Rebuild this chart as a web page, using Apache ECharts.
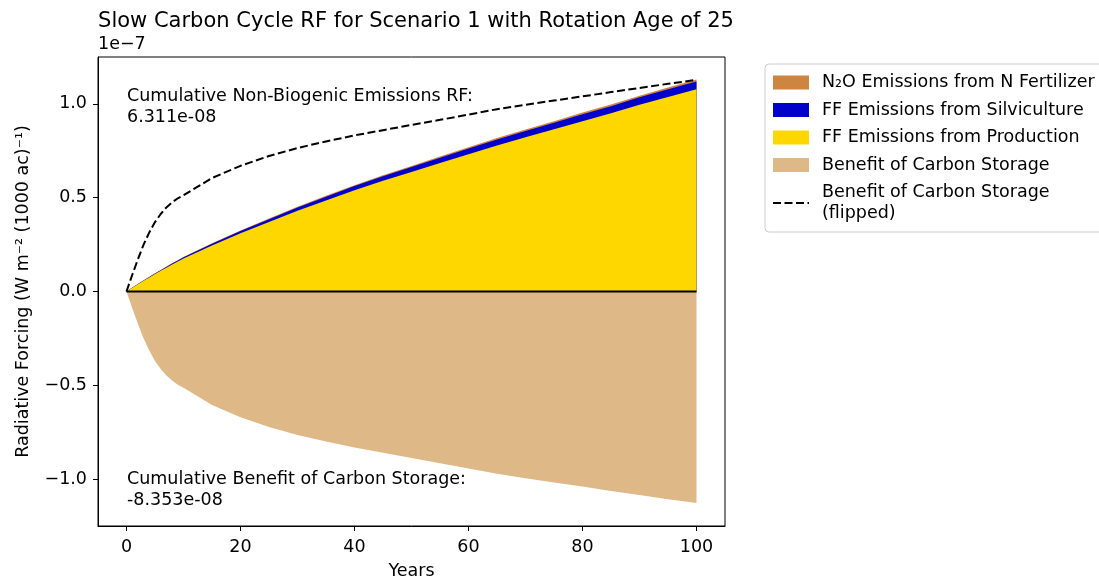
<!DOCTYPE html>
<html>
<head>
<meta charset="utf-8">
<script src="https://cdn.jsdelivr.net/npm/echarts@6/dist/echarts.min.js"></script>
<style>
html,body{margin:0;padding:0;background:#fff;}
#chart{width:1099px;height:580px;}
</style>
</head>
<body>
<div id="chart"></div>
<script>
// Data (values in units of 1e-7 W m^-2 (1000 ac)^-1)
const years = [0,1,2,3,4,5,6,7,8,9,10,15,20,25,30,35,40,45,50,55,60,65,70,75,80,85,90,95,100];
const production = [0,0.020,0.039,0.057,0.075,0.093,0.110,0.127,0.144,0.160,0.176,0.245,0.310,0.370,0.430,0.485,0.540,0.590,0.637,0.685,0.732,0.778,0.822,0.865,0.908,0.950,0.995,1.037,1.078];
const silviculture = [0,0.0006,0.0012,0.0018,0.0024,0.003,0.0036,0.0042,0.0048,0.0054,0.006,0.009,0.012,0.015,0.018,0.020,0.022,0.024,0.026,0.028,0.030,0.032,0.034,0.035,0.037,0.038,0.040,0.041,0.042];
const n2oFertilizer = [0,0.0002,0.0004,0.0006,0.0008,0.001,0.0012,0.0014,0.0016,0.0018,0.002,0.003,0.003,0.004,0.004,0.005,0.005,0.006,0.006,0.007,0.007,0.008,0.008,0.008,0.009,0.009,0.009,0.010,0.010];
const carbonStorageBenefit = [0,-0.088,-0.172,-0.250,-0.315,-0.370,-0.413,-0.448,-0.475,-0.497,-0.513,-0.605,-0.670,-0.722,-0.765,-0.800,-0.832,-0.860,-0.888,-0.915,-0.943,-0.972,-0.995,-1.018,-1.040,-1.063,-1.085,-1.107,-1.128];
const xTicks = [0,20,40,60,80,100];
const yTicks = [-1.0,-0.5,0.0,0.5,1.0];
const seriesNames = ['N\u2082O Emissions from N Fertilizer','FF Emissions from Silviculture','FF Emissions from Production','Benefit of Carbon Storage','Benefit of Carbon Storage\n(flipped)'];
const titleText = 'Slow Carbon Cycle RF for Scenario 1 with Rotation Age of 25';
const nonBioText = 'Cumulative Non-Biogenic Emissions RF:\n6.311e-08';
const benefitText = 'Cumulative Benefit of Carbon Storage:\n-8.353e-08';

// cumulative stack tops built from the component arrays
const topProd = production.slice();
const topSilv = production.map((v,i)=>v+silviculture[i]);
const topN2o = topSilv.map((v,i)=>v+n2oFertilizer[i]);
const flipped = carbonStorageBenefit.map(v=>-v);
const zeros = years.map(()=>0);

const pairs = arr => years.map((y,i)=>[y,arr[i]]);
const FONT = 'DejaVu Sans';
const FS = 17.5;
const chart = echarts.init(document.getElementById('chart'), null, {renderer:'canvas'});
const fmt = v => (v<0?'\u2212':'') + Math.abs(v).toFixed(1);

const areaSeries = (name, arr, color, z) => ({
  name, type:'line', data:pairs(arr), showSymbol:false, symbol:'none',
  lineStyle:{width:0}, itemStyle:{color}, areaStyle:{color, opacity:1}, z
});

const option = {
  animation:false,
  backgroundColor:'#fff',
  textStyle:{fontFamily:FONT},
  title:{text:titleText,left:411,top:6,textAlign:'center',
    textStyle:{fontFamily:FONT,fontSize:21,fontWeight:'normal',color:'#000'}},
  grid:{left:98,right:374,top:57,bottom:54,show:true,borderColor:'#000',borderWidth:1,backgroundColor:'#fff',
    containLabel:false,outerBoundsMode:'none'},
  xAxis:{type:'value',min:-5,max:105,
    name:'Years',nameLocation:'middle',nameGap:36,
    nameTextStyle:{fontFamily:FONT,fontSize:FS,color:'#000'},
    axisLine:{show:true,onZero:false,lineStyle:{color:'#000',width:1}},
    axisTick:{show:true,length:5,customValues:xTicks,lineStyle:{color:'#000'}},
    axisLabel:{customValues:xTicks,margin:12,fontFamily:FONT,fontSize:FS,color:'#000',formatter:v=>String(v)},
    splitLine:{show:false}},
  yAxis:{type:'value',min:-1.25,max:1.25,
    name:'Radiative Forcing (W m\u207B\u00B2 (1000 ac)\u207B\u00B9)',nameLocation:'middle',nameGap:66,
    nameTextStyle:{fontFamily:FONT,fontSize:FS,color:'#000'},
    axisLine:{show:true,onZero:false,lineStyle:{color:'#000',width:1}},
    axisTick:{show:true,length:5,customValues:yTicks,lineStyle:{color:'#000'}},
    axisLabel:{customValues:yTicks,margin:11,fontFamily:FONT,fontSize:FS,color:'#000',formatter:fmt},
    splitLine:{show:false}},
  legend:{orient:'vertical',left:765,top:64,padding:[8,40,8,7],itemGap:6.5,itemWidth:36,itemHeight:14,
    borderColor:'#cccccc',borderWidth:1,borderRadius:4,backgroundColor:'#fff',
    textStyle:{fontFamily:FONT,fontSize:FS,color:'#000',lineHeight:21,padding:[0,0,0,8]},
    data:[
      {name:seriesNames[0],icon:'rect'},
      {name:seriesNames[1],icon:'rect'},
      {name:seriesNames[2],icon:'rect'},
      {name:seriesNames[3],icon:'rect'},
      {name:seriesNames[4],itemStyle:{color:'rgba(0,0,0,0)',borderColor:'rgba(0,0,0,0)',borderWidth:0,opacity:0}}
    ]},
  graphic:[
    {type:'text',left:98,top:35,style:{text:'1e\u22127',fontFamily:FONT,fontSize:FS,fill:'#000'}},
    {type:'text',left:127,top:86,style:{text:nonBioText,fontFamily:FONT,fontSize:FS,lineHeight:21,fill:'#000'}},
    {type:'text',left:127,top:469,style:{text:benefitText,fontFamily:FONT,fontSize:FS,lineHeight:21,fill:'#000'}}
  ],
  series:[
    areaSeries(seriesNames[3], carbonStorageBenefit, '#DEB887', 1),
    areaSeries(seriesNames[0], topN2o, '#CD853F', 2),
    areaSeries(seriesNames[1], topSilv, '#0000CD', 3),
    areaSeries(seriesNames[2], topProd, '#FFD700', 4),
    {name:seriesNames[4],type:'line',data:pairs(flipped),showSymbol:false,symbol:'none',
      itemStyle:{color:'#000'},lineStyle:{color:'#000',width:2,type:[8,3.5]},z:5},
    {name:'zero',type:'line',data:pairs(zeros),showSymbol:false,symbol:'none',
      itemStyle:{color:'#000'},lineStyle:{color:'#000',width:2},z:6}
  ]
};
chart.setOption(option);
</script>
</body>
</html>
